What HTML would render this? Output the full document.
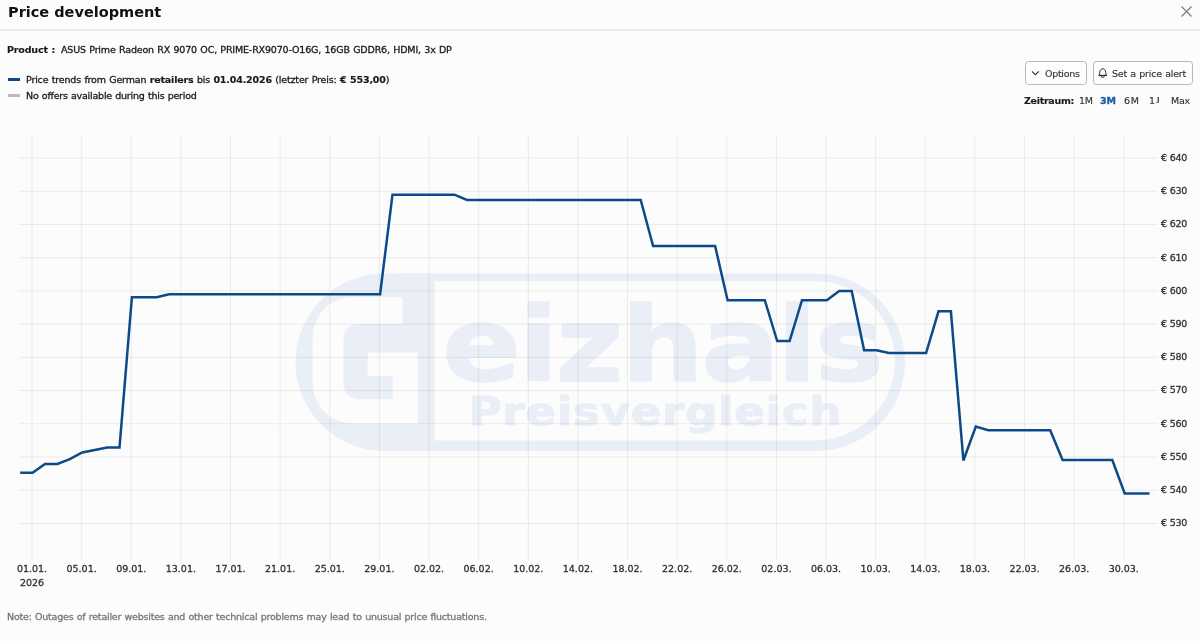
<!DOCTYPE html>
<html><head><meta charset="utf-8">
<style>
html,body{margin:0;padding:0;}
body{width:1200px;height:641px;overflow:hidden;background:#fcfcfc;font-family:"DejaVu Sans",Verdana,sans-serif;color:#1a1a1a;position:relative;}
.abs{position:absolute;white-space:nowrap;will-change:transform;}
.t{font-size:9.5px;line-height:13px;word-spacing:0.5px;-webkit-text-stroke:0.3px #1a1a1a;}
#title{font-size:14.5px;font-weight:bold;color:#111;line-height:20px;}
#sep{left:0;top:29px;width:1200px;height:2px;background:#e8e8e8;}
.bar{position:absolute;left:8px;width:12px;height:3px;}
.btn{position:absolute;top:61px;height:21.5px;border:1px solid #b8b8b8;border-radius:3.5px;background:#fdfdfd;}
.t b{-webkit-text-stroke-width:0.15px;}
#note{color:#777;-webkit-text-stroke:0.3px #777;}
svg#chart{position:absolute;left:0;top:0;will-change:transform;}
</style></head><body>
<svg id="chart" width="1200" height="641" viewBox="0 0 1200 641">
<g id="wm">
<path fill="#eaeef6" d="M384.25 273.5H816.25A88.75 88.75 0 0 1 816.25 451H384.25A88.75 88.75 0 0 1 384.25 273.5Z"/>
<path fill="#fcfcfc" d="M434.4 281.25H817.4A79.6 79.6 0 0 1 817.4 440.4H434.4Z"/>
<path fill="#fcfcfc" d="M417.9 297H352.6A40 40 0 0 0 312.6 337V383.4A40 40 0 0 0 352.6 423.4H417.9Z"/>
<path fill="#eaeef6" d="M402.5 273.5H434V440.4H417.9V324H402.5Z"/>
<path fill="#eaeef6" d="M358.5 324H434V352.6H367.7V375.9H392.8V399.2H358.5A15 15 0 0 1 343.5 384.2V339A15 15 0 0 1 358.5 324Z"/>
<text transform="translate(442,381) scale(1.12,1)" font-family="DejaVu Sans, sans-serif" font-weight="bold" font-size="104" letter-spacing="-2.3" fill="#eaeef6" stroke="#eaeef6" stroke-width="1.5" stroke-linejoin="round">eizhals</text>
<text transform="translate(468.5,424.5) scale(1.15,1)" font-family="DejaVu Sans, sans-serif" font-weight="bold" font-size="39.5" letter-spacing="0.5" fill="#eaeef6" stroke="#eaeef6" stroke-width="1" stroke-linejoin="round">Preisvergleich</text>
</g>
<g stroke="#000" stroke-opacity="0.072" stroke-width="1"><line x1="32.00" y1="135.5" x2="32.00" y2="560"/><line x1="81.63" y1="135.5" x2="81.63" y2="560"/><line x1="131.25" y1="135.5" x2="131.25" y2="560"/><line x1="180.88" y1="135.5" x2="180.88" y2="560"/><line x1="230.51" y1="135.5" x2="230.51" y2="560"/><line x1="280.13" y1="135.5" x2="280.13" y2="560"/><line x1="329.76" y1="135.5" x2="329.76" y2="560"/><line x1="379.39" y1="135.5" x2="379.39" y2="560"/><line x1="429.02" y1="135.5" x2="429.02" y2="560"/><line x1="478.64" y1="135.5" x2="478.64" y2="560"/><line x1="528.27" y1="135.5" x2="528.27" y2="560"/><line x1="577.90" y1="135.5" x2="577.90" y2="560"/><line x1="627.52" y1="135.5" x2="627.52" y2="560"/><line x1="677.15" y1="135.5" x2="677.15" y2="560"/><line x1="726.78" y1="135.5" x2="726.78" y2="560"/><line x1="776.41" y1="135.5" x2="776.41" y2="560"/><line x1="826.03" y1="135.5" x2="826.03" y2="560"/><line x1="875.66" y1="135.5" x2="875.66" y2="560"/><line x1="925.29" y1="135.5" x2="925.29" y2="560"/><line x1="974.91" y1="135.5" x2="974.91" y2="560"/><line x1="1024.54" y1="135.5" x2="1024.54" y2="560"/><line x1="1074.17" y1="135.5" x2="1074.17" y2="560"/><line x1="1123.79" y1="135.5" x2="1123.79" y2="560"/><line x1="19" y1="158.10" x2="1157.5" y2="158.10"/><line x1="19" y1="191.31" x2="1157.5" y2="191.31"/><line x1="19" y1="224.52" x2="1157.5" y2="224.52"/><line x1="19" y1="257.73" x2="1157.5" y2="257.73"/><line x1="19" y1="290.94" x2="1157.5" y2="290.94"/><line x1="19" y1="324.15" x2="1157.5" y2="324.15"/><line x1="19" y1="357.36" x2="1157.5" y2="357.36"/><line x1="19" y1="390.57" x2="1157.5" y2="390.57"/><line x1="19" y1="423.78" x2="1157.5" y2="423.78"/><line x1="19" y1="456.99" x2="1157.5" y2="456.99"/><line x1="19" y1="490.20" x2="1157.5" y2="490.20"/><line x1="19" y1="523.41" x2="1157.5" y2="523.41"/></g>
<polyline points="20.2,472.8 32.6,472.8 45.0,464.0 57.4,464.0 69.8,459.2 82.2,452.4 94.7,449.9 107.1,447.6 119.5,447.6 131.9,297.2 156.7,297.2 169.1,294.2 380.1,294.2 392.5,194.7 454.5,194.7 467.0,199.9 640.7,199.9 653.1,246.0 715.1,246.0 727.6,300.2 764.8,300.2 777.2,341.0 789.6,341.0 802.0,300.2 826.8,300.2 839.2,290.9 851.7,290.9 864.1,350.3 876.5,350.3 888.9,353.0 926.1,353.0 938.5,311.3 950.9,311.3 963.4,460.5 975.8,426.6 988.2,430.2 1050.2,430.2 1062.6,460.0 1112.3,460.0 1124.7,493.5 1149.5,493.5" fill="none" stroke="#0c4a89" stroke-width="2.5" stroke-linejoin="miter"/>
<g font-family="DejaVu Sans, Verdana, sans-serif" font-size="9.5" fill="#333" letter-spacing="-0.2" stroke="#333" stroke-width="0.3"><text x="1161" y="161.00">€ 640</text><text x="1161" y="194.21">€ 630</text><text x="1161" y="227.42">€ 620</text><text x="1161" y="260.63">€ 610</text><text x="1161" y="293.84">€ 600</text><text x="1161" y="327.05">€ 590</text><text x="1161" y="360.26">€ 580</text><text x="1161" y="393.47">€ 570</text><text x="1161" y="426.68">€ 560</text><text x="1161" y="459.89">€ 550</text><text x="1161" y="493.10">€ 540</text><text x="1161" y="526.31">€ 530</text></g>
<g font-family="DejaVu Sans, Verdana, sans-serif" font-size="9.5" fill="#333" text-anchor="middle" letter-spacing="0" stroke="#333" stroke-width="0.3"><text x="32.00" y="572.2">01.01.</text><text x="81.63" y="572.2">05.01.</text><text x="131.25" y="572.2">09.01.</text><text x="180.88" y="572.2">13.01.</text><text x="230.51" y="572.2">17.01.</text><text x="280.13" y="572.2">21.01.</text><text x="329.76" y="572.2">25.01.</text><text x="379.39" y="572.2">29.01.</text><text x="429.02" y="572.2">02.02.</text><text x="478.64" y="572.2">06.02.</text><text x="528.27" y="572.2">10.02.</text><text x="577.90" y="572.2">14.02.</text><text x="627.52" y="572.2">18.02.</text><text x="677.15" y="572.2">22.02.</text><text x="726.78" y="572.2">26.02.</text><text x="776.41" y="572.2">02.03.</text><text x="826.03" y="572.2">06.03.</text><text x="875.66" y="572.2">10.03.</text><text x="925.29" y="572.2">14.03.</text><text x="974.91" y="572.2">18.03.</text><text x="1024.54" y="572.2">22.03.</text><text x="1074.17" y="572.2">26.03.</text><text x="1123.79" y="572.2">30.03.</text><text x="32.00" y="586.2">2026</text></g>
</svg>
<div class="abs" id="title" style="left:8px;top:1.8px;letter-spacing:0px">Price development</div>
<svg class="abs" style="left:1176px;top:1px" width="21" height="21" viewBox="1176 1 21 21"><path d="M1181.5 6.5L1191.5 16.5M1191.5 6.5L1181.5 16.5" stroke="#7a7a7a" stroke-width="1.15" fill="none"/></svg>
<div class="abs" id="sep"></div>
<div class="abs t" id="prodb" style="left:7.2px;top:43px;letter-spacing:-0.156px;"><b>Product :</b></div>
<div class="abs t" id="prod" style="left:61px;top:43px;letter-spacing:-0.161px;">ASUS Prime Radeon RX 9070 OC, PRIME-RX9070-O16G, 16GB GDDR6, HDMI, 3x DP</div>
<div class="bar" style="top:78px;background:#0c4a89"></div>
<div class="bar" style="top:94px;background:#bbb"></div>
<div class="abs t" id="leg1" style="left:26px;top:73px;letter-spacing:-0.162px;">Price trends from German <b>retailers</b> bis <b>01.04.2026</b> (letzter Preis: <b>€ 553,00</b>)</div>
<div class="abs t" id="leg2" style="left:26px;top:89px;letter-spacing:-0.216px;">No offers available during this period</div>
<div class="btn" style="left:1025px;width:60px;"></div>
<div class="btn" style="left:1093px;width:98px;"></div>
<svg class="abs" style="left:0;top:0" width="1200" height="120" viewBox="0 0 1200 120"><path d="M1032 71.3L1035.4 74.7L1038.8 71.3" fill="none" stroke="#333" stroke-width="1.1"/><path d="M1099.4 75.3C1099.7 73.5 1099.5 70.9 1100.9 69.5Q1102.75 67.7 1104.6 69.5C1106 70.9 1105.8 73.5 1106.1 75.3" fill="none" stroke="#222" stroke-width="0.95"/><path d="M1098.5 75.4H1107" stroke="#222" stroke-width="1.1"/><path d="M1101.05 75.7A1.7 1.7 0 0 0 1104.45 75.7" fill="none" stroke="#222" stroke-width="0.95"/></svg>
<div class="abs t" id="opt" style="left:1044.9px;top:67px;letter-spacing:-0.3px;color:#333;-webkit-text-stroke:0.15px #333;">Options</div>
<div class="abs t" id="alert" style="left:1112px;top:67px;letter-spacing:-0.208px;color:#333;-webkit-text-stroke:0.15px #333;">Set a price alert</div>
<div class="abs t" id="zeit" style="left:1024px;top:94px;letter-spacing:-0.3px;-webkit-text-stroke:0.1px #1a1a1a;"><b>Zeitraum:</b></div>
<div class="abs t" id="m1" style="left:1079px;top:94px;letter-spacing:-0.2px;color:#333;-webkit-text-stroke:0.15px #333;">1M</div>
<div class="abs t" id="m3" style="left:1099.5px;top:94px;letter-spacing:-0.05px;color:#1a5ea8;font-weight:bold;-webkit-text-stroke-color:#1a5ea8;">3M</div>
<div class="abs t" id="m6" style="left:1123.5px;top:94px;letter-spacing:0.8px;color:#333;-webkit-text-stroke:0.15px #333;">6M</div>
<div class="abs t" id="j1" style="left:1149px;top:94px;letter-spacing:1.2px;color:#333;-webkit-text-stroke:0.15px #333;">1<span style="display:inline-block;transform:scale(1.15,0.82);transform-origin:50% -0.5px;margin-left:0.6px">J</span></div>
<div class="abs t" id="max" style="left:1171px;top:94px;letter-spacing:-0.2px;color:#333;-webkit-text-stroke:0.15px #333;">Max</div>
<div class="abs t" id="note" style="left:7.4px;top:610px;letter-spacing:-0.208px;">Note: Outages of retailer websites and other technical problems may lead to unusual price fluctuations.</div>
</body></html>
